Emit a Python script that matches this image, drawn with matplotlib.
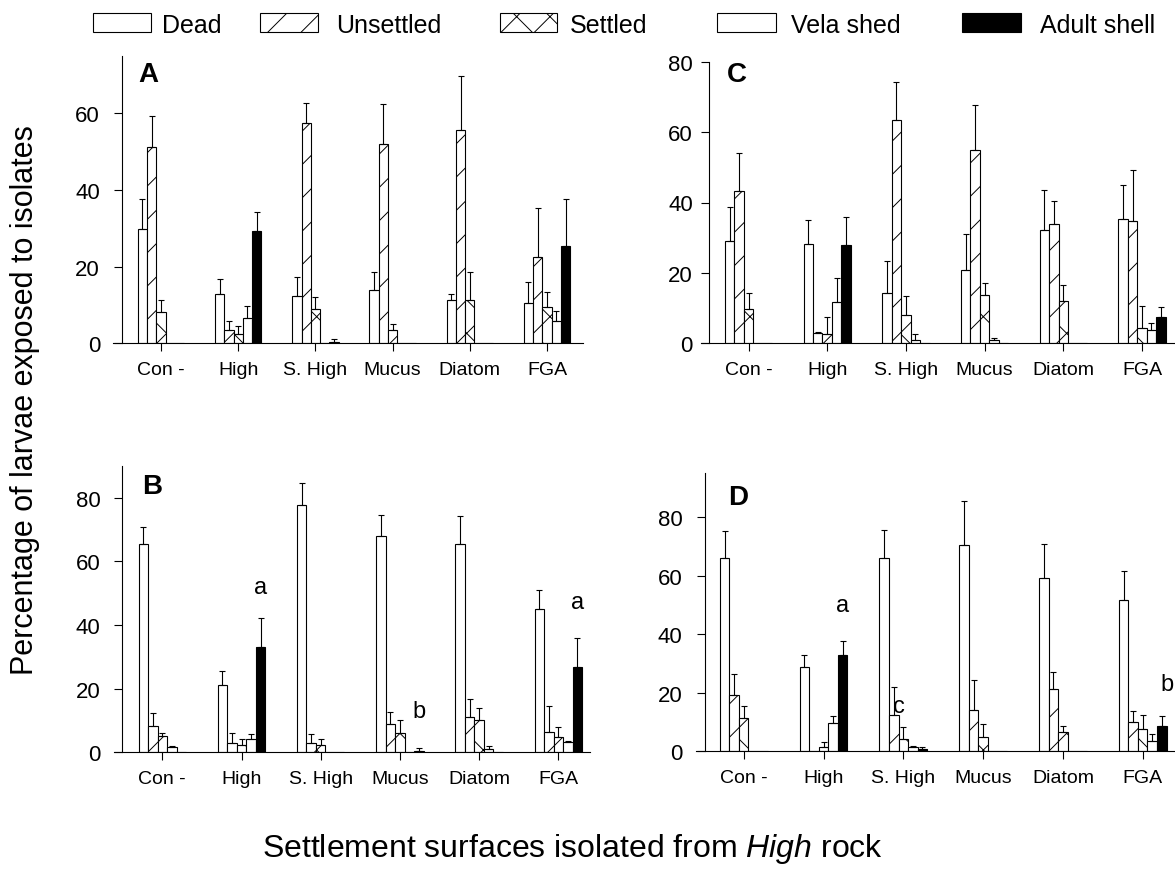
import numpy as np
import matplotlib
matplotlib.use('Agg')
import matplotlib.pyplot as plt
from matplotlib.patches import Rectangle

plt.rcParams['font.family'] = ['Liberation Sans', 'DejaVu Sans']
plt.rcParams['mathtext.fontset'] = 'custom'
plt.rcParams['mathtext.rm'] = 'Liberation Sans'
plt.rcParams['mathtext.it'] = 'Liberation Sans:italic'
plt.rcParams['hatch.linewidth'] = 0.7

# ---------------- data ----------------
categories = ['Con -', 'High', 'S. High', 'Mucus', 'Diatom', 'FGA']
series = ['Dead', 'Unsettled', 'Settled', 'Vela shed', 'Adult shell']

# rows: Dead, Unsettled, Settled, Vela shed, Adult shell ; columns: categories
A_mean = [[29.8, 12.8, 12.3, 14.0, 11.2, 10.6],
          [51.2, 3.6, 57.6, 52.1, 55.8, 22.5],
          [8.2, 2.4, 8.9, 3.5, 11.2, 9.4],
          [0, 6.6, 0, 0, 0, 5.9],
          [0, 29.3, 0.3, 0, 0, 25.4]]
A_se = [[8.0, 4.1, 4.9, 4.5, 1.6, 5.3],
        [8.2, 2.1, 5.2, 10.4, 14.1, 12.8],
        [3.0, 2.0, 3.3, 1.5, 7.5, 4.1],
        [0, 3.2, 0, 0, 0, 2.6],
        [0, 4.9, 0.7, 0, 0, 12.4]]

B_mean = [[65.4, 21.3, 77.6, 68.1, 65.4, 44.9],
          [8.4, 2.9, 2.9, 8.9, 11.2, 6.3],
          [5.2, 2.3, 2.3, 6.1, 10.3, 4.9],
          [1.6, 4.2, 0, 0, 1.0, 3.1],
          [0, 33.1, 0, 0.5, 0, 26.8]]
B_se = [[5.4, 4.4, 7.2, 6.4, 8.8, 6.0],
        [4.0, 3.2, 2.7, 3.9, 5.6, 8.2],
        [0.9, 1.9, 1.9, 3.9, 3.6, 3.0],
        [0.5, 1.4, 0, 0, 1.1, 0.3],
        [0, 9.2, 0, 0.8, 0, 9.1]]

C_mean = [[29.0, 28.3, 14.4, 20.9, 32.3, 35.3],
          [43.2, 2.8, 63.5, 54.8, 33.8, 34.8],
          [9.7, 2.6, 8.1, 13.7, 11.9, 4.3],
          [0, 11.8, 0.8, 0.8, 0, 3.8],
          [0, 27.8, 0, 0, 0, 7.4]]
C_se = [[9.6, 6.7, 9.1, 10.1, 11.2, 9.7],
        [10.8, 0.3, 10.6, 12.8, 6.6, 14.5],
        [4.6, 4.8, 5.3, 3.3, 4.7, 6.4],
        [0, 6.7, 1.8, 0.8, 0, 1.9],
        [0, 8.2, 0, 0, 0, 2.8]]

D_mean = [[66.1, 28.9, 66.1, 70.3, 59.1, 51.5],
          [19.3, 0, 12.4, 14.2, 21.3, 10.1],
          [11.3, 1.4, 4.2, 4.8, 6.7, 7.6],
          [0, 9.7, 1.4, 0, 0, 3.6],
          [0, 32.9, 0.8, 0, 0, 8.5]]
D_se = [[9.1, 4.0, 9.3, 15.2, 11.7, 9.9],
        [7.1, 0, 9.7, 10.0, 5.9, 3.5],
        [4.3, 1.7, 4.0, 4.5, 2.1, 4.9],
        [0, 2.2, 0.5, 0, 0, 2.3],
        [0, 4.7, 0.5, 0, 0, 3.7]]

# significance letters: (text, x in group units, y)
B_letters = [('a', 1.24, 51.9), ('b', 3.24, 13.1), ('a', 5.24, 47.2)]
D_letters = [('a', 1.24, 49.8), ('c', 1.94, 15.6), ('b', 5.30, 23.0)]

# ---------------- styles ----------------
facecolors = ['white', 'white', 'white', 'white', 'black']
hatches = [None, '/', 'x', None, None]
W, H = 1175, 887
bar_w = 0.12

fig = plt.figure(figsize=(W / 100, H / 100), dpi=100)

# panel layout in pixels: left, right, top, bottom, first tick px, tick spacing px, spine px
panels = [
    ('A', A_mean, A_se, (113, 583, 57, 344.3), 161.0, 77.2, 122.0, 75, [0, 20, 40, 60], 10, []),
    ('C', C_mean, C_se, (700.8, 1175, 62.7, 344.3), 748.5, 78.7, 709.3, 80, [0, 20, 40, 60, 80], 6, []),
    ('B', B_mean, B_se, (114, 590, 467, 753.3), 162.3, 79.2, 122.3, 90, [0, 20, 40, 60, 80], 10, B_letters),
    ('D', D_mean, D_se, (696, 1175, 474, 752.3), 743.7, 79.8, 704.5, 95, [0, 20, 40, 60, 80], 10, D_letters),
]
label_pos = {'A': (148, 75), 'C': (737, 75), 'B': (152, 487), 'D': (738, 498)}

for name, mean, se, (l, r, t, b), t0, sp, spx, ytop, yt, ypad, letters in panels:
    ax = fig.add_axes([l / W, 1 - b / H, (r - l) / W, (b - t) / H])
    xg = np.arange(len(categories))
    for j in range(len(series)):
        m = np.array(mean[j], dtype=float)
        e = np.array(se[j], dtype=float)
        x = xg + (j - 2) * bar_w
        ax.bar(x, m, width=bar_w, facecolor=facecolors[j], edgecolor='black',
               linewidth=0.8, hatch=hatches[j], zorder=2)
        k = e > 0
        ax.errorbar(x[k], m[k], yerr=[np.zeros(k.sum()), e[k]], fmt='none',
                    ecolor='black', elinewidth=0.8, capsize=2.5, capthick=0.8, zorder=3)
    ax.set_xlim((l - t0) / sp, (r - t0) / sp)
    ax.set_ylim(0, ytop)
    ax.set_xticks(xg)
    ax.set_xticklabels(categories)
    ax.set_yticks(yt)
    for s in ['top', 'right']:
        ax.spines[s].set_visible(False)
    ax.spines['left'].set_position(('data', (spx - t0) / sp))
    ax.spines['left'].set_linewidth(0.8)
    ax.spines['bottom'].set_linewidth(0.8)
    ax.tick_params(axis='x', direction='out', length=6, width=0.8, labelsize=14, pad=7)
    ax.tick_params(axis='y', direction='out', length=5.8, width=0.8, labelsize=16, pad=ypad)
    ax.patch.set_visible(False)
    for txt, xx, yy in letters:
        ax.text(xx, yy, txt, fontsize=17, ha='center', va='center', clip_on=False)
    px, py = label_pos[name]
    fig.text(px / W, 1 - py / H, name, fontsize=20, fontweight='bold', ha='center', va='center')

# ---------------- legend ----------------
leg_items = [  # patch left, patch right, text left (px)
    (93, 151, 162),
    (260, 318, 336),
    (500, 557, 570),
    (717, 776, 791),
    (962, 1021, 1040),
]
pt, ph = 14, 19
for j, (pl, pr, tl) in enumerate(leg_items):
    rect = Rectangle((pl / W, 1 - (pt + ph) / H), (pr - pl) / W, ph / H,
                     transform=fig.transFigure, facecolor=facecolors[j],
                     edgecolor='black', linewidth=0.8, hatch=hatches[j])
    fig.add_artist(rect)
    fig.text(tl / W, 1 - 33 / H, series[j], fontsize=18, ha='left', va='baseline')

# ---------------- axis titles ----------------
fig.text(25 / W, 1 - 400 / H, 'Percentage of larvae exposed to isolates',
         rotation=90, fontsize=22, ha='center', va='center')
fig.text(573 / W, 1 - 849 / H, r'Settlement surfaces isolated from $\mathit{High}$ rock',
         fontsize=23, ha='center', va='center')

fig.savefig('out.png', dpi=100)
